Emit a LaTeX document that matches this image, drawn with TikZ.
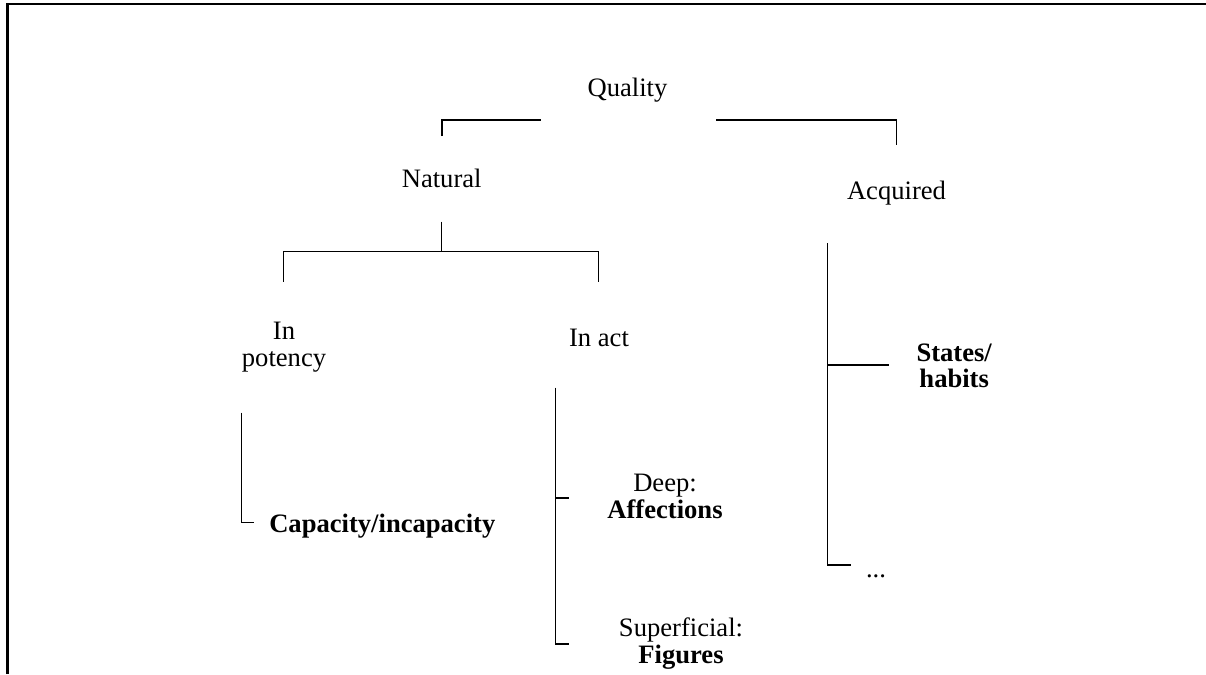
\documentclass[tikz,border=0pt]{standalone}
\usepackage{fontspec}
\setmainfont{Liberation Serif}
\begin{document}
\begin{tikzpicture}[x=1pt,y=-1pt,
  lbl/.style={anchor=base,inner sep=0pt,font=\fontsize{26.6}{30}\selectfont},
  blbl/.style={lbl,font=\fontsize{26.6}{30}\selectfont\bfseries},
  branch/.style={line width=1.3pt},
  frameline/.style={line width=2.2pt}]
\useasboundingbox (0,0) rectangle (1206,674);

% frame (top and left edges)
\draw[frameline] (7.5,674) -- (7.5,4) -- (1206,4);

% labels
\node[lbl] (quality) at (627.5,96.6) {Quality};
\node[lbl] (natural) at (441.7,187.5) {Natural};
\node[lbl] (acquired) at (896.5,199) {Acquired};
\node[lbl] (inpot1) at (284,339) {In};
\node[lbl] (inpot2) at (284,366) {potency};
\node[lbl] (inact) at (599,346) {In act};
\node[blbl] (capacity) at (382.3,532) {Capacity/incapacity};
\node[lbl] (deep) at (665,491) {Deep:};
\node[blbl] (affect) at (665,518.5) {Affections};
\node[lbl] (superf) at (681,636.5) {Superficial:};
\node[blbl] (figures) at (681,663.5) {Figures};
\node[blbl] (states) at (954.2,361) {States/};
\node[blbl] (habits) at (954.2,387.5) {habits};
\node[lbl] (more) at (876,577) {...};

% Quality -> Natural / Acquired
\draw[branch,line width=1.8pt] (441.7,136) -- (441.7,120) -- (540.7,120);
\draw[branch] (716,120) -- (896.7,120) -- (896.7,145);

% Natural -> In potency / In act
\draw[branch] (441.7,221.7) -- (441.7,251.7);
\draw[branch] (283.3,281.7) -- (283.3,251.7) -- (598.3,251.7) -- (598.3,281.7);

% In potency -> Capacity/incapacity
\draw[branch] (241.7,412.7) -- (241.7,522.3) -- (254.3,522.3);

% In act -> Deep / Superficial
\draw[branch] (555.7,387.7) -- (555.7,644) -- (569,644);
\draw[branch] (555.7,498) -- (569,498);

% Acquired -> States/habits / ...
\draw[branch] (827.7,243.3) -- (827.7,565) -- (850.7,565);
\draw[branch] (827.7,365) -- (889.3,365);
\end{tikzpicture}
\end{document}
